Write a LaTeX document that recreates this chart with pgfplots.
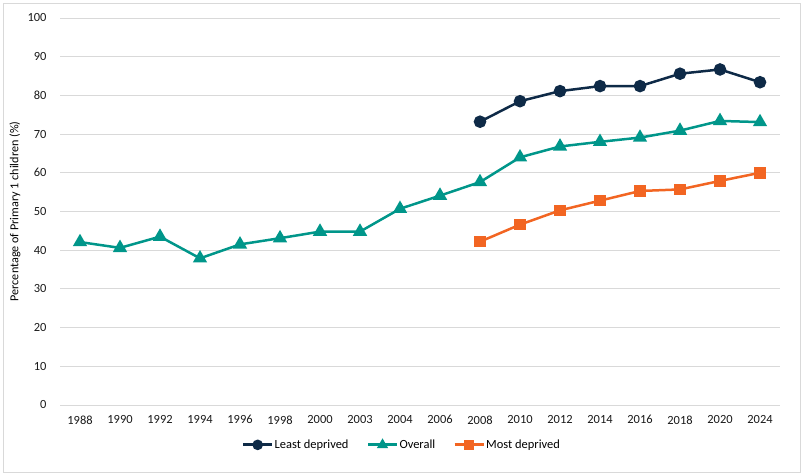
\documentclass[border=0pt]{standalone}
\usepackage{pgfplots}
\pgfplotsset{compat=1.18}
\usepackage{fontspec}
\setmainfont{Carlito}

\definecolor{leastc}{HTML}{0E2A47}
\definecolor{overallc}{HTML}{00968A}
\definecolor{mostc}{HTML}{F26522}
\definecolor{gridc}{HTML}{D9D9D9}

\begin{document}
\begin{tikzpicture}[x=1bp,y=1bp]
\useasboundingbox (0,0) rectangle (805,476);
\draw[gridc, line width=0.8bp] (3,4) rectangle (800,473);
\begin{axis}[
    at={(60bp,71bp)}, anchor=south west,
    width=720bp, height=387bp,
    scale only axis,
    xmin=-0.5, xmax=17.5,
    ymin=0, ymax=100,
    xtick={0,...,17},
    xticklabels={1988,1990,1992,1994,1996,1998,2000,2003,2004,2006,2008,2010,2012,2014,2016,2018,2020,2024},
    ytick={0,10,...,100},
    axis line style={draw=none},
    major tick length=0pt,
    ymajorgrids=true,
    grid style={gridc, line width=0.8bp},
    tick label style={font=\fontsize{12.5}{14}\selectfont, text=black!90},
    /pgf/number format/assume math mode=true,
    yticklabel style={xshift=-10bp},
    xticklabel style={yshift=-7bp},
    ylabel={Percentage of Primary 1 children (\%)},
    ylabel style={font=\fontsize{12.2}{14}\selectfont, at={(axis description cs:-0.0625,0.5)}, anchor=center},
    legend style={at={(0.474,-0.103)}, anchor=center, draw=none, legend columns=3,
        font=\fontsize{12.5}{14}\selectfont,
        nodes={inner sep=1bp},
        /tikz/every odd column/.append style={column sep=0bp},
        /tikz/every even column/.append style={column sep=17bp}},
    legend image code/.code={
        \draw[#1, line width=3bp, mark=none] (0bp,0bp) -- (29bp,0bp);
        \draw[#1, mark size=4bp] plot coordinates {(14.5bp,0bp)};
    },
]
\addplot[leastc, line width=2.5bp, mark=*, mark size=5bp, mark options={solid}]
    coordinates {
    (10,73.2) (11,78.5) (12,81.1) (13,82.4) (14,82.4) (15,85.6) (16,86.7) (17,83.4)
    };
\addplot[overallc, line width=2.5bp, mark=triangle*, mark size=5.8bp, mark options={solid}]
    coordinates {
    (0,42.1) (1,40.6) (2,43.5) (3,37.9) (4,41.5) (5,43.1) (6,44.8) (7,44.8)
    (8,50.7) (9,54.1) (10,57.6) (11,64.0) (12,66.8) (13,68.0) (14,69.1)
    (15,70.9) (16,73.4) (17,73.1)
    };
\addplot[mostc, line width=2.5bp, mark=square*, mark size=4.5bp, mark options={solid}]
    coordinates {
    (10,42.2) (11,46.6) (12,50.3) (13,52.8) (14,55.3) (15,55.7) (16,57.9) (17,60.0)
    };
\legend{Least deprived, Overall, Most deprived}
\end{axis}
\end{tikzpicture}
\end{document}
